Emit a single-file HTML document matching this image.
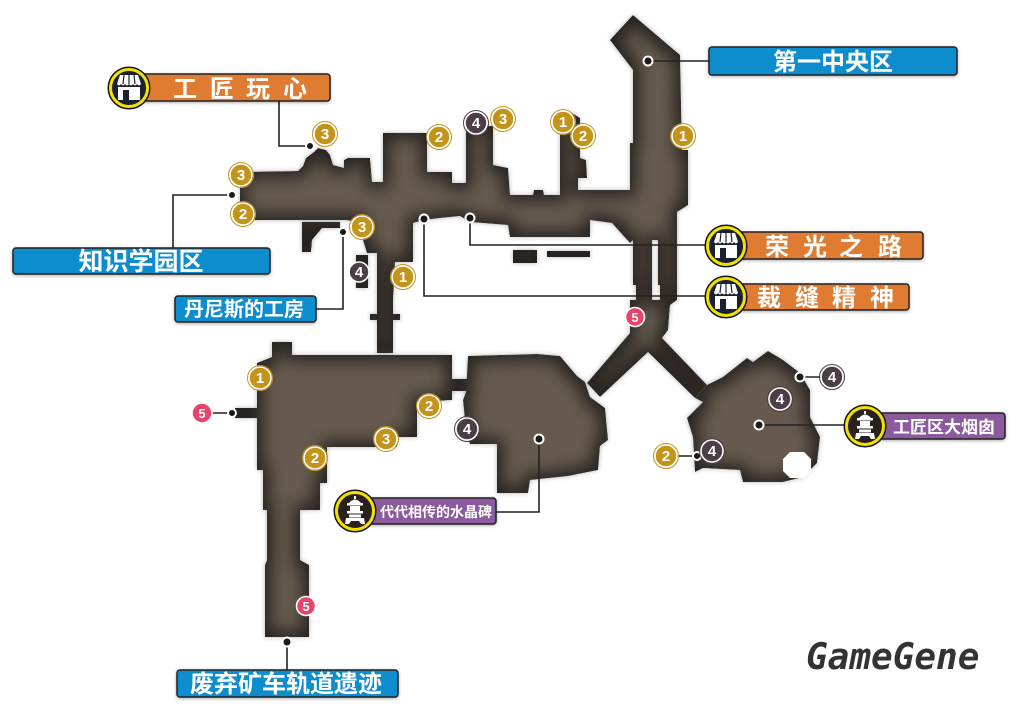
<!DOCTYPE html>
<html><head><meta charset="utf-8">
<style>
html,body{margin:0;padding:0;background:#fff;}
body{width:1018px;height:712px;overflow:hidden;}
svg{display:block;}
.lb{font-family:"Liberation Sans","Noto Sans CJK SC","WenQuanYi Zen Hei",sans-serif;font-weight:bold;fill:#fff;}
.bn{font-family:"Liberation Sans","DejaVu Sans",sans-serif;font-weight:bold;fill:#fff;text-anchor:middle;}
</style></head>
<body>
<svg width="1018" height="712" viewBox="0 0 1018 712" xmlns="http://www.w3.org/2000/svg">
<defs>
<g id="ms">
  <polygon points="240,172 298,171 303,166 306,158 314,152 318,148 326,150 330,155 333,165 344,168 344,160 348,158 370,158 372,182 383,182 383,133 427,133 427,172 452,172 452,183 466,183 466,128 472,126 493,126 493,165 508,168 510,195 533,195 534,190 543,190 544,195 560,195 560,115 572,113 580,118 580,158 586,160 587,178 578,178 578,190 630,190 630,143 633,143 633,70 610,40 633,15 680,55 682,150 688,150 688,205 677,212 677,240 633,240 630,243 612,223 590,220 590,237 510,237 508,225 470,222 460,216 440,218 424,220 413,223 413,262 395,262 393,300 393,353 377,353 377,253 367,253 363,240 363,222 345,220 253,220 240,215"/>
  <rect x="633" y="233" width="19" height="52"/>
  <rect x="658" y="233" width="19" height="52"/>
  <polygon points="636,283 652,283 652,300 660,300 660,283 677,283 677,300 670,305 668,330 662,338 707,385 695,398 648,352 600,397 587,383 630,333 630,300 636,300"/>
  <rect x="370" y="314" width="30" height="6"/>
  <rect x="356" y="255" width="12" height="33"/>
  <polygon points="302,222 340,222 340,228 322,228 312,240 311,252 302,252"/>
  <rect x="513" y="250" width="24" height="13"/>
  <rect x="547" y="251" width="43" height="6"/>
  <polygon points="272,342 292,342 292,355 452,355 452,400 417,402 417,437 397,437 397,447 327,447 327,483 320,483 320,510 300,510 300,560 309,565 309,637 265,637 265,565 267,560 267,510 263,510 263,470 257,470 257,418 235,418 235,408 257,408 257,363 272,357"/>
  <rect x="448" y="379" width="22" height="12"/>
  <polygon points="468,356 537,354 560,356 577,376 585,382 590,397 605,408 608,440 600,446 598,470 568,476 530,480 528,493 497,493 497,444 470,444 466,430 463,400 466,392"/>
  <polygon points="723,377 747,358 753,362 768,351 783,360 800,373 810,390 810,417 820,437 817,463 803,477 783,482 743,482 740,470 703,468 695,472 693,437 687,418 703,402 695,398 707,385"/>
</g>
<mask id="mm" maskUnits="userSpaceOnUse" x="0" y="0" width="1018" height="712">
  <use href="#ms" fill="#fff"/>
</mask>
<filter id="glow" filterUnits="userSpaceOnUse" x="0" y="0" width="1018" height="712">
  <feMorphology in="SourceGraphic" operator="erode" radius="6" result="e"/>
  <feGaussianBlur in="e" stdDeviation="8"/>
</filter>
<filter id="osh" filterUnits="userSpaceOnUse" x="0" y="0" width="1018" height="712">
  <feGaussianBlur in="SourceAlpha" stdDeviation="2.5" result="b"/>
  <feFlood flood-color="#000" flood-opacity="0.3"/>
  <feComposite in2="b" operator="in"/>
</filter>
<filter id="sh" x="-10%" y="-30%" width="120%" height="160%">
  <feDropShadow dx="0" dy="1" stdDeviation="1.5" flood-color="#000" flood-opacity="0.35"/>
</filter>
<g id="shop">
  <circle r="21" fill="#1b2130" stroke="#111" stroke-width="1"/>
  <circle r="18.5" fill="none" stroke="#f2e200" stroke-width="3"/>
  <path d="M-12,-4 L-9,-13 L9,-13 L12,-4 Z" fill="#fff"/>
  <path d="M-12,-4 q2,3 4,0 q2,3 4,0 q2,3 4,0 q2,3 4,0 q2,3 4,0 q2,3 4,0" fill="#fff"/>
  <path d="M-5,-13 L-6,-4 M0,-13 L0,-4 M5,-13 L6,-4" stroke="#1b2130" stroke-width="1.2"/>
  <rect x="-11" y="-1" width="22" height="13" fill="#fff"/>
  <rect x="-6" y="2" width="6" height="10" fill="#1b2130"/>
</g>
<g id="tower">
  <circle r="21" fill="#2b2020" stroke="#111" stroke-width="1"/>
  <circle r="18.5" fill="none" stroke="#f2e200" stroke-width="3"/>
  <path d="M-6,-8 Q0,-15 6,-8 Z" fill="#fff"/>
  <rect x="-1" y="-15" width="2" height="3" fill="#fff"/>
  <rect x="-8" y="-8" width="16" height="2.5" fill="#fff"/>
  <rect x="-5" y="-5" width="10" height="5" fill="#fff"/>
  <rect x="-8" y="0" width="16" height="2.5" fill="#fff"/>
  <rect x="-6" y="3.5" width="12" height="3" fill="#fff"/>
  <path d="M-9,7 L9,7 L10,13 L6,13 L4,10 L-4,10 L-6,13 L-10,13 Z" fill="#fff"/>
</g>
</defs>

<!-- MAP -->
<use href="#ms" fill="#000" filter="url(#osh)"/>
<g mask="url(#mm)">
  <use href="#ms" fill="#282320"/>
  <use href="#ms" fill="#655a4e" filter="url(#glow)"/>
</g>
<polygon points="790,452 804,452 811,459 811,471 804,478 790,478 783,471 783,459" fill="#fff"/>

<!-- CONNECTORS -->
<g stroke="#222" stroke-width="1.6" fill="none">
  <polyline points="279,100 279,146 310,146"/>
  <polyline points="232,195 173,195 173,248"/>
  <polyline points="316,309 343,309 343,232"/>
  <polyline points="648,61 709,61"/>
  <polyline points="470,218 470,245 705,245"/>
  <polyline points="424,219 424,296 705,296"/>
  <polyline points="759,425 844,425"/>
  <polyline points="495,512 539,512 539,439"/>
  <polyline points="287,642 287,670"/>
  <polyline points="202,413 232,413"/>
  <polyline points="800,377 832,377"/>
  <polyline points="666,456 697,456"/>
</g>
<g fill="#1a1a1a" stroke="#fff" stroke-width="2">
  <circle cx="310" cy="146" r="4"/>
  <circle cx="232" cy="195" r="4"/>
  <circle cx="343" cy="232" r="4"/>
  <circle cx="648" cy="61" r="4.5"/>
  <circle cx="470" cy="218" r="4.5"/>
  <circle cx="424" cy="219" r="4.5"/>
  <circle cx="759" cy="425" r="4.5"/>
  <circle cx="539" cy="439" r="4.5"/>
  <circle cx="287" cy="642" r="4.5"/>
  <circle cx="232" cy="413" r="4"/>
  <circle cx="800" cy="377" r="4.5"/>
  <circle cx="697" cy="456" r="4"/>
</g>

<!-- BADGES -->
<g>
  <g fill="#c4941a" stroke="#fff" stroke-width="1.6">
    <circle cx="325" cy="134" r="11"/><circle cx="241" cy="175" r="11"/><circle cx="243" cy="214" r="11"/>
    <circle cx="362" cy="227" r="11"/><circle cx="439" cy="137" r="11"/><circle cx="503" cy="119" r="11"/>
    <circle cx="563" cy="122" r="11"/><circle cx="583" cy="136" r="11"/><circle cx="683" cy="136" r="11"/>
    <circle cx="403" cy="277" r="11"/><circle cx="260" cy="378" r="11"/><circle cx="429" cy="406" r="11"/>
    <circle cx="386" cy="439" r="11"/><circle cx="315" cy="458" r="11"/><circle cx="666" cy="456" r="11"/>
  </g>
  <g fill="none" stroke="#c4941a" stroke-width="1">
    <circle cx="325" cy="134" r="12.5"/><circle cx="241" cy="175" r="12.5"/><circle cx="243" cy="214" r="12.5"/>
    <circle cx="362" cy="227" r="12.5"/><circle cx="439" cy="137" r="12.5"/><circle cx="503" cy="119" r="12.5"/>
    <circle cx="563" cy="122" r="12.5"/><circle cx="583" cy="136" r="12.5"/><circle cx="683" cy="136" r="12.5"/>
    <circle cx="403" cy="277" r="12.5"/><circle cx="260" cy="378" r="12.5"/><circle cx="429" cy="406" r="12.5"/>
    <circle cx="386" cy="439" r="12.5"/><circle cx="315" cy="458" r="12.5"/><circle cx="666" cy="456" r="12.5"/>
  </g>
  <g fill="#4b3e46" stroke="#fff" stroke-width="1.6">
    <circle cx="476" cy="123" r="11"/><circle cx="359" cy="272" r="10"/><circle cx="832" cy="377" r="11"/>
    <circle cx="780" cy="399" r="11"/><circle cx="712" cy="451" r="11"/><circle cx="467" cy="429" r="11"/>
  </g>
  <g fill="none" stroke="#4b3e46" stroke-width="1">
    <circle cx="476" cy="123" r="12.5"/><circle cx="832" cy="377" r="12.5"/>
    <circle cx="780" cy="399" r="12.5"/><circle cx="712" cy="451" r="12.5"/><circle cx="467" cy="429" r="12.5"/>
  </g>
  <g fill="#e8436b" stroke="#fff" stroke-width="1.6">
    <circle cx="635" cy="317" r="9.5"/><circle cx="202" cy="413" r="10"/><circle cx="306" cy="606" r="9.5"/>
  </g>
  <g class="bn" font-size="15">
    <text x="325" y="139">3</text><text x="241" y="180">3</text><text x="243" y="219">2</text>
    <text x="362" y="232">3</text><text x="439" y="142">2</text><text x="503" y="124">3</text>
    <text x="563" y="127">1</text><text x="583" y="141">2</text><text x="683" y="141">1</text>
    <text x="403" y="282">1</text><text x="260" y="383">1</text><text x="429" y="411">2</text>
    <text x="386" y="444">3</text><text x="315" y="463">2</text><text x="666" y="461">2</text>
    <text x="476" y="128">4</text><text x="359" y="277">4</text><text x="832" y="382">4</text>
    <text x="780" y="404">4</text><text x="712" y="456">4</text><text x="467" y="434">4</text>
  </g>
  <g class="bn" font-size="13">
    <text x="635" y="322">5</text><text x="202" y="418">5</text><text x="306" y="611">5</text>
  </g>
</g>

<!-- LABELS -->
<g filter="url(#sh)" stroke="#222" stroke-width="1.5">
  <rect x="140" y="74" width="190" height="27" rx="3" fill="#e07b30"/>
  <rect x="709" y="47" width="248" height="28" rx="3" fill="#0a8dcd"/>
  <rect x="13" y="248" width="257" height="26" rx="3" fill="#0a8dcd"/>
  <rect x="175" y="296" width="141" height="26" rx="3" fill="#0a8dcd"/>
  <rect x="735" y="232" width="188" height="27" rx="3" fill="#e07b30"/>
  <rect x="735" y="284" width="174" height="26" rx="3" fill="#e07b30"/>
  <rect x="875" y="413" width="130" height="26" rx="3" fill="#8c5a9e"/>
  <rect x="366" y="498" width="130" height="26" rx="3" fill="#8c5a9e"/>
  <rect x="177" y="670" width="221" height="27" rx="3" fill="#0a8dcd"/>
</g>
<use href="#shop" x="129" y="88"/>
<use href="#shop" x="726" y="246"/>
<use href="#shop" x="726" y="297"/>
<use href="#tower" x="865" y="426"/>
<use href="#tower" x="355" y="511"/>

<g class="lb" text-anchor="middle">
  <g font-size="24">
    <text x="185" y="97">工</text><text x="222" y="97">匠</text><text x="258" y="97">玩</text><text x="295" y="97">心</text>
    <text x="777" y="255">荣</text><text x="815" y="255">光</text><text x="851" y="255">之</text><text x="890" y="255">路</text>
    <text x="769" y="306">裁</text><text x="807" y="306">缝</text><text x="844" y="306">精</text><text x="882" y="306">神</text>
  </g>
  <text x="833" y="70" font-size="24">第一中央区</text>
  <text x="141" y="270" font-size="25">知识学园区</text>
  <text x="244" y="316" font-size="20">丹尼斯的工房</text>
  <text x="944" y="433" font-size="17">工匠区大烟囱</text>
  <text x="436" y="517" font-size="14">代代相传的水晶碑</text>
  <text x="286" y="692" font-size="24">废弃矿车轨道遗迹</text>
</g>

<text x="806" y="669" font-family="'DejaVu Sans Mono','Liberation Mono',monospace" font-weight="bold" font-style="italic" font-size="36" fill="#333">GameGene</text>
</svg>
</body></html>
